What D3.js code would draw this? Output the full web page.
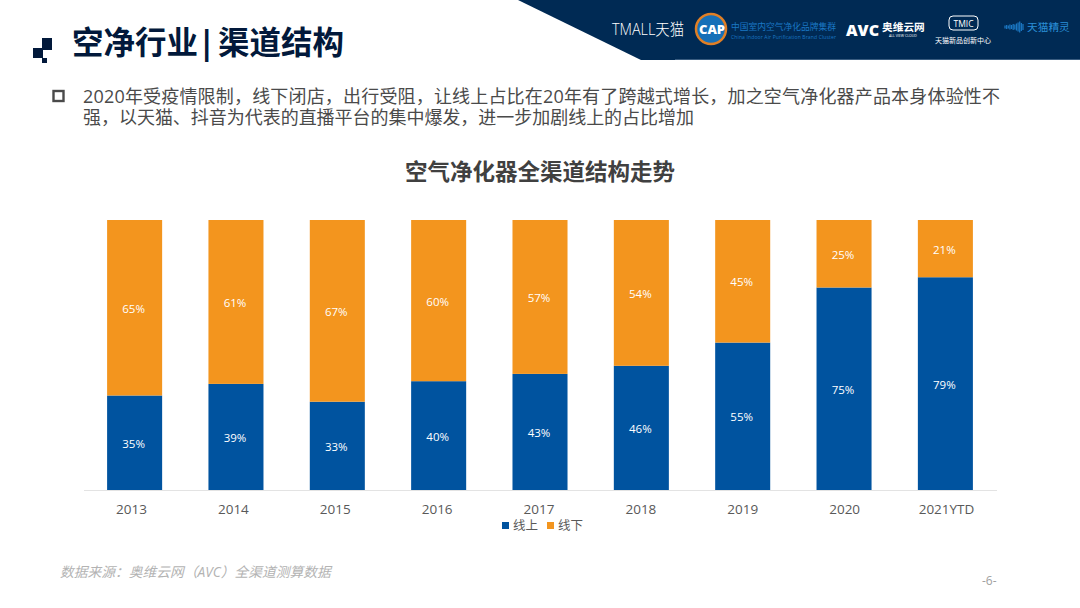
<!DOCTYPE html>
<html>
<head>
<meta charset="utf-8">
<script src="https://cdn.jsdelivr.net/npm/d3@7"></script>
<style>
  html, body { margin: 0; padding: 0; background: #fff; }
  text { font-family: "Open Sans", "Noto Sans CJK SC", sans-serif; }
</style>
</head>
<body>
<svg id="chart" width="1080" height="608"></svg>
<script>
const years = ["2013", "2014", "2015", "2016", "2017", "2018", "2019", "2020", "2021YTD"];
// the printed labels are these values rounded
const online = [35, 39.3, 32.7, 40.3, 43, 46, 54.6, 75, 78.8];
const seriesNames = ["线上", "线下"];
const seriesColors = ["#00539f", "#f3951e"];

const titleParts = ["空净行业|", "渠道结构"];
const bodyLines = [
    "2020年受疫情限制，线下闭店，出行受阻，让线上占比在20年有了跨越式增长，加之空气净化器产品本身体验性不",
    "强，以天猫、抖音为代表的直播平台的集中爆发，进一步加剧线上的占比增加"
];
const bodyWidths = [917, 611];
const chartTitle = "空气净化器全渠道结构走势";
const sourceNote = "数据来源：奥维云网（AVC）全渠道测算数据";
const eqBars = [3, 4, 3, 5, 4, 6, 5, 7, 9, 11, 8, 6];

const svg = d3.select("#chart");
const navy = "#02193b";

// header band
svg.append("path")
    .attr("d", "M518,0L641,60L1080,60L1080,0Z")
    .attr("fill", "#002a54");
svg.append("line").attr("x1", 675).attr("x2", 1080).attr("y1", 59.5).attr("y2", 59.5)
    .attr("stroke", "#5f7f9f").attr("stroke-opacity", 0.6);

// logos in the header band
const logos = svg.append("g").attr("id", "logos");
logos.append("text").attr("x", 612).attr("y", 35).attr("font-size", 15.5).attr("font-weight", 300)
    .attr("textLength", 72).attr("lengthAdjust", "spacingAndGlyphs")
    .attr("fill", "#fff").text("TMALL天猫");
logos.append("circle").attr("cx", 711).attr("cy", 29).attr("r", 15)
    .attr("fill", "#1670b8").attr("stroke", "#e07f25").attr("stroke-width", 2.5);
logos.append("text").attr("x", 712).attr("y", 34).attr("text-anchor", "middle")
    .attr("font-size", 13).attr("font-weight", 800).attr("fill", "#fff").text("CAP");
logos.append("text").attr("x", 731).attr("y", 30).attr("font-size", 8.75)
    .attr("fill", "#1b78c4").text("中国室内空气净化品牌集群");
logos.append("text").attr("x", 731).attr("y", 38.5).attr("font-size", 5)
    .attr("textLength", 105).attr("fill", "#1b78c4").text("China Indoor Air Purification Brand Cluster");
logos.append("text").attr("x", 846).attr("y", 35.5).attr("font-size", 16.5)
    .attr("font-weight", 800).attr("textLength", 33).attr("lengthAdjust", "spacingAndGlyphs")
    .attr("fill", "#fff").text("AVC");
logos.append("text").attr("x", 882).attr("y", 31).attr("font-size", 10.7)
    .attr("font-weight", 700).attr("fill", "#fff").text("奥维云网");
logos.append("text").attr("x", 889).attr("y", 36.5).attr("font-size", 3.5)
    .attr("fill", "#fff").text("ALL VIEW CLOUD");
logos.append("rect").attr("x", 949).attr("y", 16).attr("width", 29).attr("height", 14).attr("rx", 4)
    .attr("fill", "none").attr("stroke", "#fff").attr("stroke-width", 1);
logos.append("text").attr("x", 963.5).attr("y", 26.5).attr("text-anchor", "middle")
    .attr("font-size", 8.5).attr("fill", "#fff").text("TMIC");
logos.append("text").attr("x", 935).attr("y", 43).attr("font-size", 7)
    .attr("fill", "#fff").text("天猫新品创新中心");
logos.append("text").attr("x", 1027).attr("y", 31).attr("font-size", 10.7)
    .attr("fill", "#2a8fd8").text("天猫精灵");

const eqX = d3.scaleBand().domain(d3.range(eqBars.length)).range([1004, 1024]).padding(0.25);
logos.selectAll("rect.eq").data(eqBars).join("rect")
    .attr("class", "eq")
    .attr("x", (d, i) => eqX(i))
    .attr("y", d => 27 - d / 2)
    .attr("width", eqX.bandwidth())
    .attr("height", d => d)
    .attr("fill", "#1b78c4");

// square bullet mark beside the title
[[42, 38, 10, 12], [33, 48, 10, 10], [42, 58, 5, 5]].forEach(([x, y, w, h]) => {
    svg.append("rect").attr("x", x).attr("y", y).attr("width", w).attr("height", h).attr("fill", navy);
});

svg.append("text").attr("x", 72).attr("y", 54).attr("font-size", 31.5).attr("font-weight", 700)
    .attr("fill", navy).text(titleParts[0]);
svg.append("text").attr("x", 218).attr("y", 54).attr("font-size", 31.5).attr("font-weight", 700)
    .attr("fill", navy).text(titleParts[1]);

// body paragraph
svg.append("rect").attr("x", 53.5).attr("y", 91).attr("width", 10).attr("height", 10)
    .attr("fill", "none").attr("stroke", "#4a4a4a").attr("stroke-width", 2.4);
bodyLines.forEach((line, i) => {
    svg.append("text").attr("x", 83).attr("y", 103 + i * 21)
        .attr("font-size", 18).attr("textLength", bodyWidths[i]).attr("fill", "#4a4a4a").text(line);
});

svg.append("text").attr("x", 540).attr("y", 180).attr("text-anchor", "middle")
    .attr("font-size", 22.5).attr("font-weight", 700).attr("fill", "#404040").text(chartTitle);

// scales
const x = d3.scaleBand().domain(years).range([84, 996]).paddingInner(0.457).paddingOuter(0.228);
const y = d3.scaleLinear().domain([0, 100]).range([490, 220]);
const labelX = d3.scalePoint().domain(years).range([131, 946]);

const rows = years.map((year, i) => ({ year, online: online[i], offline: 100 - online[i] }));
const stacked = d3.stack().keys(["online", "offline"])(rows);

const layers = svg.selectAll("g.layer").data(stacked).join("g")
    .attr("class", "layer")
    .attr("fill", (d, i) => seriesColors[i]);

layers.selectAll("rect").data(d => d).join("rect")
    .attr("x", d => x(d.data.year))
    .attr("y", d => y(d[1]))
    .attr("width", x.bandwidth())
    .attr("height", d => y(d[0]) - y(d[1]));

layers.selectAll("text").data(d => d).join("text")
    .attr("x", d => x(d.data.year) + x.bandwidth() / 2 - 1)
    .attr("y", d => (y(d[0]) + y(d[1])) / 2 + 5)
    .attr("text-anchor", "middle")
    .attr("font-size", 11.5)
    .attr("fill", "#fff")
    .text(d => Math.round(d[1] - d[0]) + "%");

// x axis
svg.append("line").attr("x1", 84).attr("x2", 997).attr("y1", 490.5).attr("y2", 490.5)
    .attr("stroke", "#e3e3e3").attr("stroke-width", 1);

const xAxis = svg.append("g").attr("transform", "translate(0,490)")
    .call(d3.axisBottom(labelX).tickSize(0).tickPadding(14));
xAxis.select(".domain").remove();
xAxis.selectAll("text").attr("font-size", 13.5).attr("fill", "#595959")
    .style("font-family", '"Open Sans", "Noto Sans CJK SC", sans-serif');

// legend
const legendX = [502, 547];
seriesNames.forEach((name, i) => {
    svg.append("rect").attr("x", legendX[i]).attr("y", 522).attr("width", 7).attr("height", 7)
        .attr("fill", seriesColors[i]);
    svg.append("text").attr("x", legendX[i] + 11).attr("y", 530).attr("font-size", 12.5)
        .attr("fill", "#595959").text(name);
});

// footer
svg.append("text").attr("x", 60).attr("y", 577).attr("font-size", 13.75)
    .attr("font-style", "italic").attr("fill", "#b3b3b3").text(sourceNote);
svg.append("text").attr("x", 982).attr("y", 585).attr("font-size", 12)
    .attr("fill", "#a0a0a0").text("-6-");
</script>
</body>
</html>
